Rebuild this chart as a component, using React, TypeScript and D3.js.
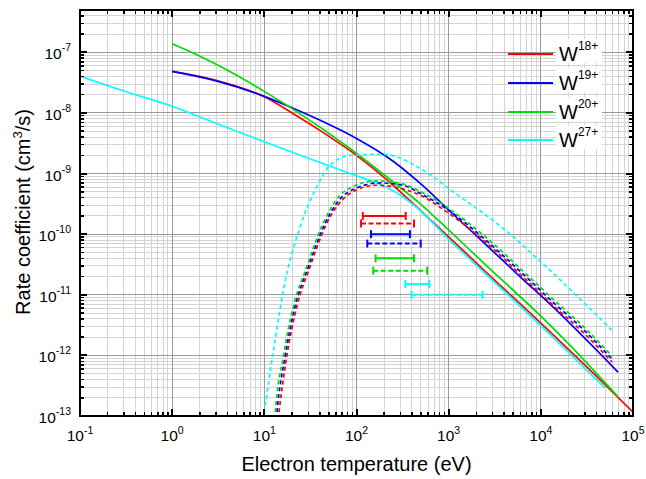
import React from "react";
import * as d3 from "d3";

const WIDTH = 646;
const HEIGHT = 479;
const PLOT = { left: 80, right: 633, top: 10, bottom: 416 };
const FONT = "'Liberation Sans', Arial, Helvetica, sans-serif";

type Pt = [number, number];

const ionLabels = ["18+", "19+", "20+", "27+"];
const ionColors = ["#ff0000", "#0000ff", "#00dd00", "#00ffff"];

// Solid curves: [electron temperature (eV), rate coefficient (cm^3/s)]
const w18Solid: Pt[] = [
  [1, 4.86e-8], [3, 3.45e-8], [10, 1.85e-8], [20, 1.0e-8], [45, 4.6e-9],
  [100, 2.0e-9], [250, 6.4e-10], [489, 2.49e-10], [1033, 8.6e-11],
  [2605, 2.28e-11], [1e4, 3.41e-12], [34100, 5.75e-13], [1e5, 1.16e-13],
];
const w19Solid: Pt[] = [
  [1, 4.86e-8], [3, 3.39e-8], [10, 1.88e-8], [20, 1.22e-8], [45, 7.0e-9],
  [100, 3.8e-9], [250, 1.6e-9], [489, 6.93e-10], [1033, 2.39e-10],
  [2605, 6.46e-11], [5940, 2.0e-11], [13550, 6.3e-12], [68700, 5.3e-13],
];
const w20Solid: Pt[] = [
  [1, 1.39e-7], [2, 8.66e-8], [3, 6.37e-8], [5, 4.2e-8], [10, 2.27e-8],
  [20, 1.18e-8], [85, 2.59e-9], [249, 7.3e-10], [489, 3.2e-10],
  [1033, 1.12e-10], [2605, 2.97e-11], [1e4, 4.45e-12], [17400, 1.93e-12],
  [68700, 2.09e-13],
];
const w27Solid: Pt[] = [
  [0.1, 4.07e-8], [0.3, 2.3e-8], [1, 1.29e-8], [3, 6.76e-9], [10, 3.35e-9],
  [30, 1.79e-9], [100, 9.2e-10], [200, 6.18e-10], [300, 4.4e-10],
  [500, 2.4e-10], [1000, 8.3e-11], [2605, 2.11e-11], [1e4, 3.1e-12],
  [49700, 2.9e-13],
];

// Dashed curves: [electron temperature (eV), rate coefficient (cm^3/s)]
const w18Dashed: Pt[] = [
  [13.2, 4e-14], [14.2, 9.75e-14], [17.5, 9.5e-13], [22.5, 6.34e-12],
  [31.3, 2.89e-11], [47.5, 1.5e-10], [85, 4.69e-10], [166, 6.42e-10],
  [296, 5.73e-10], [489, 4.4e-10], [1033, 2.14e-10], [2605, 7.11e-11],
  [5940, 2.19e-11], [13550, 6.76e-12], [31680, 2.08e-12], [59160, 7.77e-13],
];
const w19Dashed: Pt[] = [
  [12.9, 4e-14], [13.55, 9.75e-14], [16.76, 9.5e-13], [21.5, 6.34e-12],
  [30.0, 2.89e-11], [45.5, 1.5e-10], [80.8, 4.92e-10], [180, 7.01e-10],
  [319, 6.42e-10], [489, 4.74e-10], [1033, 2.39e-10], [2605, 7.67e-11],
  [5940, 2.46e-11], [13550, 7.57e-12], [31680, 2.34e-12], [59160, 8.71e-13],
];
const w20Dashed: Pt[] = [
  [12.7, 4e-14], [13.06, 9.75e-14], [16.06, 9.5e-13], [20.62, 6.34e-12],
  [28.8, 2.89e-11], [43.3, 1.5e-10], [76.9, 5.31e-10], [165.6, 7.56e-10],
  [296, 6.93e-10], [489, 5.12e-10], [1033, 2.58e-10], [2605, 8.59e-11],
  [5940, 2.75e-11], [13550, 8.49e-12], [31680, 2.62e-12], [59160, 9.76e-13],
];
const w27Dashed: Pt[] = [
  [9.6, 3e-14], [9.95, 9.75e-14], [10.6, 2.08e-13], [13.1, 1.79e-12],
  [16.1, 1.19e-11], [24.4, 1.32e-10], [37, 6.0e-10], [51.5, 1.37e-9],
  [85, 2.0e-9], [195, 2.08e-9], [531, 1.13e-9], [1122, 4.98e-10],
  [3917, 1.24e-10], [13650, 2.25e-11], [58700, 2.62e-12],
];

const solidCurves = [w18Solid, w19Solid, w20Solid, w27Solid];
const dashedCurves = [w18Dashed, w19Dashed, w20Dashed, w27Dashed];

// Temperature ranges shown as horizontal bars
const barIon = [0, 0, 1, 1, 2, 2, 3, 3];
const barDashed = [false, true, false, true, false, true, false, true];
const barLow = [117, 112, 143.5, 131, 161, 152, 339, 396];
const barHigh = [342, 421, 380, 497, 421, 585, 617, 2333];
const barRate = [2e-10, 1.5e-10, 1e-10, 7e-11, 4e-11, 2.5e-11, 1.5e-11, 1e-11];

const xTickExponents = [-1, 0, 1, 2, 3, 4, 5];
const yTickExponents = [-13, -12, -11, -10, -9, -8, -7];

export default function App() {
  const x = d3.scaleLog().domain([0.1, 1e5]).range([PLOT.left, PLOT.right]);
  const y = d3.scaleLog().domain([1e-13, 5e-7]).range([PLOT.bottom, PLOT.top]);
  const line = d3
    .line<Pt>()
    .x((d) => x(d[0]))
    .y((d) => y(d[1]))
    .curve(d3.curveMonotoneX);

  const xMajor = xTickExponents.map((e) => Math.pow(10, e));
  const yMajor = yTickExponents.map((e) => Math.pow(10, e));
  const xMinor: number[] = [];
  for (let e = -1; e < 5; e++) for (let m = 2; m <= 9; m++) xMinor.push(m * Math.pow(10, e));
  const yMinor: number[] = [];
  for (let e = -13; e <= -7; e++)
    for (let m = 2; m <= 9; m++) {
      const v = m * Math.pow(10, e);
      if (v <= 5e-7 * 1.0001) yMinor.push(v);
    }

  const majorLen = 7;
  const minorLen = 4;
  const legendY = [54, 83, 112, 140];

  return (
    <svg
      width={WIDTH}
      height={HEIGHT}
      style={{ position: "absolute", left: 0, top: 0, background: "#fff" }}
      fontFamily={FONT}
    >
      <defs>
        <clipPath id="plot-clip">
          <rect x={PLOT.left} y={PLOT.top} width={PLOT.right - PLOT.left} height={PLOT.bottom - PLOT.top} />
        </clipPath>
      </defs>
      <rect x={0} y={0} width={WIDTH} height={HEIGHT} fill="#fff" />

      {/* grid */}
      <g shapeRendering="crispEdges">
        {xMinor.map((v, i) => (
          <line key={"gxm" + i} x1={x(v)} x2={x(v)} y1={PLOT.top} y2={PLOT.bottom} stroke="#d4d4d4" strokeWidth={1} />
        ))}
        {yMinor.map((v, i) => (
          <line key={"gym" + i} x1={PLOT.left} x2={PLOT.right} y1={y(v)} y2={y(v)} stroke="#d4d4d4" strokeWidth={1} />
        ))}
        {xMajor.map((v, i) => (
          <line key={"gxM" + i} x1={x(v)} x2={x(v)} y1={PLOT.top} y2={PLOT.bottom} stroke="#9a9a9a" strokeWidth={1} />
        ))}
        {yMajor.map((v, i) => (
          <line key={"gyM" + i} x1={PLOT.left} x2={PLOT.right} y1={y(v)} y2={y(v)} stroke="#9a9a9a" strokeWidth={1} />
        ))}
      </g>

      {/* curves */}
      <g clipPath="url(#plot-clip)" fill="none" strokeWidth={1.7}>
        {solidCurves.map((c, i) => (
          <path key={"s" + i} d={line(c) || ""} stroke={ionColors[i]} />
        ))}
        {dashedCurves.map((c, i) => (
          <path key={"d" + i} d={line(c) || ""} stroke={ionColors[i]} strokeDasharray="4,3" />
        ))}
      </g>

      {/* temperature range bars */}
      <g strokeWidth={2}>
        {barRate.map((r, i) => {
          const yy = y(r);
          const x1 = x(barLow[i]);
          const x2 = x(barHigh[i]);
          const c = ionColors[barIon[i]];
          return (
            <g key={"b" + i}>
              <line x1={x1} x2={x2} y1={yy} y2={yy} stroke={c} strokeDasharray={barDashed[i] ? "5,2.5" : undefined} />
              <line x1={x1} x2={x1} y1={yy - 4} y2={yy + 4} stroke={c} />
              <line x1={x2} x2={x2} y1={yy - 4} y2={yy + 4} stroke={c} />
            </g>
          );
        })}
      </g>

      {/* frame and ticks */}
      <g stroke="#000" shapeRendering="crispEdges">
        {xMajor.map((v, i) => (
          <g key={"txM" + i}>
            <line x1={x(v)} x2={x(v)} y1={PLOT.bottom} y2={PLOT.bottom - majorLen} strokeWidth={2} />
            <line x1={x(v)} x2={x(v)} y1={PLOT.top} y2={PLOT.top + majorLen} strokeWidth={2} />
          </g>
        ))}
        {xMinor.map((v, i) => (
          <g key={"txm" + i}>
            <line x1={x(v)} x2={x(v)} y1={PLOT.bottom} y2={PLOT.bottom - minorLen} strokeWidth={1.5} />
            <line x1={x(v)} x2={x(v)} y1={PLOT.top} y2={PLOT.top + minorLen} strokeWidth={1.5} />
          </g>
        ))}
        {yMajor.map((v, i) => (
          <g key={"tyM" + i}>
            <line x1={PLOT.left} x2={PLOT.left + majorLen} y1={y(v)} y2={y(v)} strokeWidth={2} />
            <line x1={PLOT.right} x2={PLOT.right - majorLen} y1={y(v)} y2={y(v)} strokeWidth={2} />
          </g>
        ))}
        {yMinor.map((v, i) => (
          <g key={"tym" + i}>
            <line x1={PLOT.left} x2={PLOT.left + minorLen} y1={y(v)} y2={y(v)} strokeWidth={1.5} />
            <line x1={PLOT.right} x2={PLOT.right - minorLen} y1={y(v)} y2={y(v)} strokeWidth={1.5} />
          </g>
        ))}
        <rect
          x={PLOT.left}
          y={PLOT.top}
          width={PLOT.right - PLOT.left}
          height={PLOT.bottom - PLOT.top}
          fill="none"
          strokeWidth={2}
        />
      </g>

      {/* tick labels */}
      <g fill="#000" fontSize={15.5}>
        {xTickExponents.map((e, i) => (
          <text key={"lx" + i} x={x(Math.pow(10, e))} y={PLOT.bottom + 25} textAnchor="middle">
            10
            <tspan dy={-7} fontSize={10.5}>{String(e)}</tspan>
          </text>
        ))}
        {yTickExponents.map((e, i) => (
          <text key={"ly" + i} x={71} y={y(Math.pow(10, e)) + 7} textAnchor="end">
            10
            <tspan dy={-8} fontSize={10.5}>{String(e)}</tspan>
          </text>
        ))}
      </g>

      {/* axis titles */}
      <text x={(PLOT.left + PLOT.right) / 2} y={471} textAnchor="middle" fontSize={20} fill="#000">
        Electron temperature (eV)
      </text>
      <text transform="translate(30,212) rotate(-90)" textAnchor="middle" fontSize={20} fill="#000">
        Rate coefficient (cm
        <tspan dy={-8} fontSize={13}>3</tspan>
        <tspan dy={8}>/s)</tspan>
      </text>

      {/* legend */}
      <g>
        {ionLabels.map((lab, i) => (
          <g key={"lg" + i}>
            <line x1={508} x2={553} y1={legendY[i]} y2={legendY[i]} stroke={ionColors[i]} strokeWidth={2} />
            <rect x={556} y={legendY[i] - 15} width={46} height={24} fill="#fff" />
            <text x={559} y={legendY[i] + 7} fontSize={20} fill="#000">
              W<tspan dy={-11} fontSize={12}>{lab}</tspan>
            </text>
          </g>
        ))}
      </g>
    </svg>
  );
}
